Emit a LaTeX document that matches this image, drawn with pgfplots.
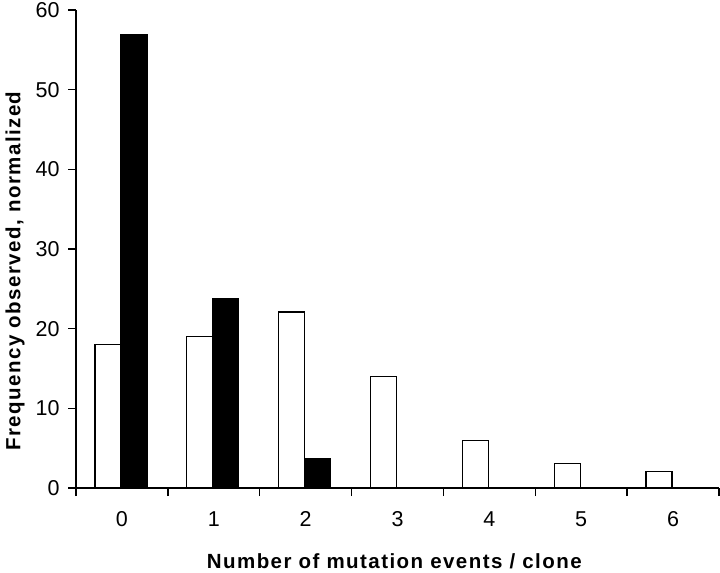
\documentclass[border=0pt]{standalone}
\usepackage{fontspec}
\setmainfont{Liberation Sans}
\usepackage{pgfplots}
\pgfplotsset{compat=1.18}
\begin{document}
\begin{tikzpicture}
\begin{axis}[name=ax, scale only axis, width=643pt, height=478pt,
  xmin=-0.5, xmax=6.5, ymin=0, ymax=60,
  axis x line*=bottom, axis y line*=left,
  axis line style={-, line width=1.5pt},
  ytick={0,10,...,60},
  xtick={-0.5,0.5,...,6.5}, x tick label as interval,
  xticklabels={0,1,2,3,4,5,6},
  tick align=outside, major tick length=8pt,
  tick style={black, line width=1.5pt},
  /pgf/number format/assume math mode=true,
  tick label style={font=\fontsize{21.5}{25}\selectfont},
  yticklabel style={xshift=-5pt},
  xticklabel style={yshift=-12pt},
  label style={font=\bfseries\fontsize{20.5}{24}\selectfont\addfontfeature{LetterSpace=7}},
  xlabel={Number of mutation events / clone},
  xlabel style={at={(rel axis cs:0.495,0)}, anchor=base, yshift=-80pt},
  ylabel={Frequency observed, normalized},
  ylabel style={at={(rel axis cs:0,0.454)}, anchor=center, yshift=61pt},
]
\addplot[ybar, bar width=26pt, bar shift=-14pt, fill=white, draw=black, line width=1.4pt]
  coordinates {(0,18) (1,19) (2,22.1) (3,14) (4,6) (5,3.1) (6,2.1)};
\addplot[ybar, bar width=26pt, bar shift=12pt, fill=black, draw=black, line width=1.4pt]
  coordinates {(0,56.9) (1,23.7) (2,3.7)};
\end{axis}
\pgfresetboundingbox
\path ([xshift=-76pt,yshift=-84pt]ax.south west) rectangle ([xshift=1pt,yshift=10pt]ax.north east);
\end{tikzpicture}
\end{document}
